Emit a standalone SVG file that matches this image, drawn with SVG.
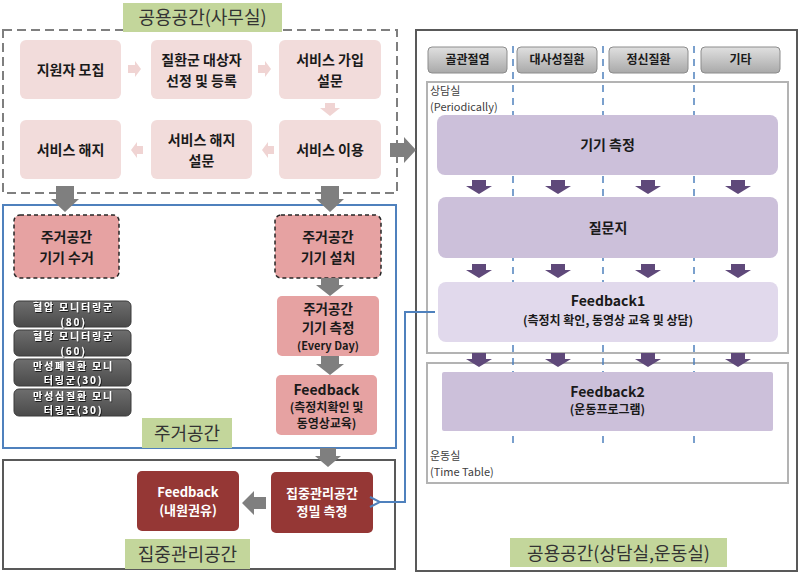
<svg xmlns="http://www.w3.org/2000/svg" width="800" height="576" viewBox="0 0 800 576">
<style>
text{font-family:"Noto Sans CJK KR","Noto Sans",sans-serif;text-anchor:middle}
.pink{fill:#f2dcdb}
.pt{font-size:14px;font-weight:bold;fill:#1a1a1a}
.lab{fill:#c3d69b}
.lt{font-size:18px;fill:#333}
.rose{fill:#e6a2a2}
.mon{fill:url(#gmon);stroke:#3a3a3a;stroke-width:1}
.mt{font-size:10px;font-weight:bold;letter-spacing:1.8px;fill:#fff;filter:url(#tsh)}
.red{fill:#953735}
.wt{font-size:13px;font-weight:bold;fill:#fff}
.cat{fill:url(#gcat);stroke:#8c8c8c;stroke-width:1}
.ct{font-size:12px;font-weight:bold;fill:#1a1a1a}
.pur{fill:#ccc0da}
.room{fill:none;stroke:#b3b3b3;stroke-width:2}
.rt{font-size:11px;fill:#404040;text-anchor:start}
.vd{stroke:#4f81bd;stroke-width:1.5;stroke-dasharray:7,6}
.ga{fill:#7f7f7f}
.pa{fill:#5f497a}
.sa{fill:#f0d4d3}
</style>
<defs>
<linearGradient id="gmon" x1="0" y1="0" x2="0" y2="1"><stop offset="0" stop-color="#6e6e6e"/><stop offset="1" stop-color="#4a4a4a"/></linearGradient>
<linearGradient id="gcat" x1="0" y1="0" x2="0" y2="1"><stop offset="0" stop-color="#e0e0e0"/><stop offset="1" stop-color="#a9a9a9"/></linearGradient>
<filter id="tsh" x="-10%" y="-30%" width="120%" height="160%"><feDropShadow dx="0.8" dy="0.8" stdDeviation="0.6" flood-color="#000" flood-opacity="0.9"/></filter>
<polygon id="pdown" points="-7,0 7,0 7,6 13,6 0,14 -13,6 -7,6"/>
<polygon id="gdown" points="-9,0 9,0 9,13 14,13 0,26 -14,13 -9,13"/>
<marker id="barrow" markerWidth="12" markerHeight="12" refX="1" refY="6" orient="auto" markerUnits="userSpaceOnUse"><path d="M11,1 L1,6 L11,11" fill="none" stroke="#4f81bd" stroke-width="2"/></marker>
</defs>
<rect width="800" height="576" fill="#fff"/>

<!-- 공용공간(사무실) -->
<g id="office">
<rect x="3" y="30" width="394" height="163" fill="#fff" stroke="#7f7f7f" stroke-width="2" stroke-dasharray="9,5"/>
<rect class="lab" x="123" y="3" width="159" height="29"/>
<text class="lt" x="202.5" y="24">공용공간(사무실)</text>
</g>
<g id="n1"><rect class="pink" x="20" y="40" width="101" height="59" rx="6"/><text class="pt" x="70.5" y="75">지원자 모집</text></g>
<g id="n2"><rect class="pink" x="151" y="40" width="101" height="59" rx="6"/><text class="pt" x="201.5" y="65">질환군 대상자</text><text class="pt" x="201.5" y="86">선정 및 등록</text></g>
<g id="n3"><rect class="pink" x="279" y="40" width="102" height="59" rx="6"/><text class="pt" x="330" y="65">서비스 가입</text><text class="pt" x="330" y="86">설문</text></g>
<g id="n4"><rect class="pink" x="279" y="120" width="102" height="59" rx="6"/><text class="pt" x="330" y="155">서비스 이용</text></g>
<g id="n5"><rect class="pink" x="151" y="120" width="101" height="59" rx="6"/><text class="pt" x="201.5" y="145">서비스 해지</text><text class="pt" x="201.5" y="166">설문</text></g>
<g id="n6"><rect class="pink" x="20" y="120" width="101" height="59" rx="6"/><text class="pt" x="70.5" y="155">서비스 해지</text></g>

<!-- 주거공간 -->
<g id="home">
<rect x="3" y="205" width="393" height="243" fill="none" stroke="#4f81bd" stroke-width="2"/>
<rect class="lab" x="142" y="418" width="90" height="30"/>
<text class="lt" x="187" y="440">주거공간</text>
</g>
<g id="h1"><rect class="rose" x="14" y="215" width="105" height="63" rx="6" stroke="#262626" stroke-width="1.5" stroke-dasharray="4,3"/><text class="pt" x="66.5" y="242">주거공간</text><text class="pt" x="66.5" y="263">기기 수거</text></g>
<g id="h2"><rect class="rose" x="275" y="215" width="106" height="63" rx="6" stroke="#262626" stroke-width="1.5" stroke-dasharray="4,3"/><text class="pt" x="328" y="242">주거공간</text><text class="pt" x="328" y="263">기기 설치</text></g>
<g id="h3"><rect class="rose" x="277" y="296" width="102" height="60" rx="5"/><text class="pt" x="328" y="314" style="font-size:13.5px">주거공간</text><text class="pt" x="328" y="333" style="font-size:13.5px">기기 측정</text><text class="pt" x="328" y="350" style="font-size:11px">(Every Day)</text></g>
<g id="h4"><rect class="rose" x="276" y="375" width="101" height="60" rx="5"/><text class="pt" x="326.5" y="395">Feedback</text><text class="pt" x="326.5" y="412" style="font-size:12px">(측정치확인 및</text><text class="pt" x="326.5" y="428" style="font-size:12px">동영상교육)</text></g>
<g id="m1"><rect class="mon" x="14" y="301" width="117" height="26" rx="5"/><text class="mt" x="73.5" y="311">혈압 모니터링군</text><text class="mt" x="73.5" y="325.5">(80)</text></g>
<g id="m2"><rect class="mon" x="14" y="330" width="117" height="26" rx="5"/><text class="mt" x="73.5" y="340">혈당 모니터링군</text><text class="mt" x="73.5" y="354.5">(60)</text></g>
<g id="m3"><rect class="mon" x="14" y="359" width="117" height="27" rx="5"/><text class="mt" x="73.5" y="369.5">만성폐질환 모니</text><text class="mt" x="73.5" y="384">터링군(30)</text></g>
<g id="m4"><rect class="mon" x="14" y="389" width="117" height="27" rx="5"/><text class="mt" x="73.5" y="399.5">만성심질환 모니</text><text class="mt" x="73.5" y="414">터링군(30)</text></g>

<!-- 집중관리공간 -->
<g id="intensive">
<rect x="3" y="460" width="392" height="109" fill="none" stroke="#595959" stroke-width="2"/>
<rect class="lab" x="125" y="539" width="125" height="30"/>
<text class="lt" x="187.5" y="561">집중관리공간</text>
</g>
<g id="i1"><rect class="red" x="137" y="471" width="102" height="60" rx="5"/><text class="wt" x="188" y="497">Feedback</text><text class="wt" x="188" y="515">(내원권유)</text></g>
<g id="i2"><rect class="red" x="271" y="472" width="102" height="61" rx="5"/><text class="wt" x="322" y="498">집중관리공간</text><text class="wt" x="322" y="516">정밀 측정</text></g>

<!-- 공용공간(상담실,운동실) -->
<g id="common">
<rect x="416" y="30" width="381" height="541" fill="#fff" stroke="#595959" stroke-width="2"/>
<rect class="lab" x="510" y="538" width="217" height="29"/>
<text class="lt" x="618.5" y="560">공용공간(상담실,운동실)</text>
</g>
<g id="c1"><rect class="cat" x="428" y="47" width="79" height="26" rx="4"/><text class="ct" x="467.5" y="64">골관절염</text></g>
<g id="c2"><rect class="cat" x="517" y="47" width="80" height="26" rx="4"/><text class="ct" x="557" y="64">대사성질환</text></g>
<g id="c3"><rect class="cat" x="609" y="47" width="79" height="26" rx="4"/><text class="ct" x="648.5" y="64">정신질환</text></g>
<g id="c4"><rect class="cat" x="701" y="47" width="79" height="26" rx="4"/><text class="ct" x="740.5" y="64">기타</text></g>
<g id="room1"><rect class="room" x="427" y="82" width="361" height="271"/><text class="rt" x="430" y="95">상담실</text><text class="rt" x="430" y="111">(Periodically)</text></g>
<g id="room2"><rect class="room" x="427" y="363" width="361" height="120"/><text class="rt" x="430" y="460">운동실</text><text class="rt" x="430" y="476">(Time Table)</text></g>
<g id="dividers">
<line class="vd" x1="513" y1="46" x2="513" y2="447"/>
<line class="vd" x1="603" y1="46" x2="603" y2="447"/>
<line class="vd" x1="694" y1="46" x2="694" y2="447"/>
</g>
<g id="p1"><rect class="pur" x="437" y="115" width="341" height="60" rx="8"/><text class="pt" x="607.5" y="150">기기 측정</text></g>
<g id="p2"><rect class="pur" x="438" y="197" width="340" height="61" rx="8"/><text class="pt" x="608" y="233">질문지</text></g>
<g id="p3"><rect x="438" y="282" width="340" height="60" rx="8" fill="#e1d9ec"/><text class="pt" x="608" y="306">Feedback1</text><text class="pt" x="608" y="325" style="font-size:12px">(측정치 확인, 동영상 교육 및 상담)</text></g>
<g id="p4"><rect class="pur" x="442" y="372" width="331" height="59" rx="2"/><text class="pt" x="607.5" y="397">Feedback2</text><text class="pt" x="607.5" y="414" style="font-size:12px">(운동프로그램)</text></g>

<!-- connectors -->
<g id="connectors">
<polygon class="sa" points="128,65 135,65 135,61 141,69 135,77 135,73 128,73"/>
<polygon class="sa" points="258,65 265,65 265,61 271,69 265,77 265,73 258,73"/>
<polygon class="sa" points="325,103 335,103 335,108 340,108 330,116 320,108 325,108"/>
<polygon class="sa" points="274,146 268,146 268,142 262,150 268,158 268,154 274,154"/>
<polygon class="sa" points="143,146 137,146 137,142 131,150 137,158 137,154 143,154"/>
<polygon class="ga" points="390,143 404,143 404,137 416,150 404,163 404,157 390,157"/>
<use href="#gdown" class="ga" x="65" y="186"/>
<use href="#gdown" class="ga" x="330" y="186"/>
<polygon class="ga" points="321,278 339,278 339,285 344,285 330,296 316,285 321,285"/>
<polygon class="ga" points="321,356 339,356 339,364 344,364 330,375 316,364 321,364"/>
<polygon class="ga" points="320,448 336,448 336,456 341,456 328,467 315,456 320,456"/>
<polygon class="ga" points="266,497 254,497 254,491 242,503 254,515 254,509 266,509"/>
<polyline points="435,312 405,312 405,502 380,502" fill="none" stroke="#4f81bd" stroke-width="2" marker-end="url(#barrow)"/>
<g class="pa">
<use href="#pdown" x="479" y="180"/><use href="#pdown" x="558" y="180"/><use href="#pdown" x="648" y="180"/><use href="#pdown" x="738" y="180"/>
<use href="#pdown" x="479" y="264"/><use href="#pdown" x="558" y="264"/><use href="#pdown" x="648" y="264"/><use href="#pdown" x="738" y="264"/>
<use href="#pdown" x="479" y="353"/><use href="#pdown" x="558" y="353"/><use href="#pdown" x="648" y="353"/><use href="#pdown" x="738" y="353"/>
</g>
</g>
</svg>
